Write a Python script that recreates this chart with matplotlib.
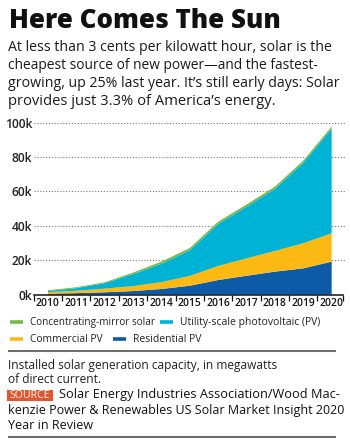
import matplotlib

matplotlib.use("Agg")
import matplotlib.pyplot as plt
from matplotlib.lines import Line2D
from matplotlib.patches import Rectangle

# installed capacity, thousand MWdc
years = [2010, 2011, 2012, 2013, 2014, 2015, 2016, 2017, 2018, 2019, 2020]
residential = [0.5, 0.8, 1.3, 2.0, 3.2, 5.1, 8.4, 10.9, 13.3, 15.2, 19.1]
commercial = [0.9, 1.4, 2.1, 2.9, 4.0, 5.7, 8.2, 10.1, 12.0, 14.6, 16.5]
utility = [0.6, 1.5, 3.2, 6.9, 10.6, 14.9, 24.4, 30.0, 36.1, 46.7, 60.7]
csp = [0.5, 0.5, 0.5, 0.9, 1.3, 1.3, 1.3, 1.3, 1.3, 1.3, 1.3]

y_ticks = [0, 20, 40, 60, 80, 100]
y_labels = ["0k", "20k", "40k", "60k", "80k", "100k"]

series_names = ["Concentrating-mirror solar", "Utility-scale photovoltaic (PV)",
                "Commercial PV", "Residential PV"]
C_RES = "#0d5aa7"
C_COM = "#fdb913"
C_UTIL = "#00b2d3"
C_CSP = "#7ab648"

title = "Here Comes The Sun"
subtitle = [
    "At less than 3 cents per kilowatt hour, solar is the",
    "cheapest source of new power\u2014and the fastest-",
    "growing, up 25% last year. It\u2019s still early days: Solar",
    "provides just 3.3% of America\u2019s energy.",
]
note = ["Installed solar generation capacity, in megawatts", "of direct current."]
source = [
    "Solar Energy Industries Association/Wood Mac-",
    "kenzie Power & Renewables US Solar Market Insight 2020",
    "Year in Review",
]

W, H = 350, 444
FONT = "Open Sans"
TXT = "#1a1a1a"

fig = plt.figure(figsize=(W / 100, H / 100), dpi=100)
fig.patch.set_facecolor("white")
renderer = fig.canvas.get_renderer()


def px(x, y):
    # pixel coords (top-left origin) -> figure fraction
    return x / W, 1 - y / H


def fit(t, width):
    bb = t.get_window_extent(renderer)
    t.set_fontsize(t.get_fontsize() * width / bb.width)


def size_for(s, width, **kw):
    t = fig.text(0, 0, s, fontsize=10, family=FONT, **kw)
    fit(t, width)
    size = t.get_fontsize()
    t.remove()
    return size


def put(x, y, s, width=None, **kw):
    kw.setdefault("family", FONT)
    kw.setdefault("color", TXT)
    t = fig.text(*px(x, y), s, va="baseline", **kw)
    if width:
        fit(t, width)
    return t


def hline(x0, x1, y, color, lw):
    fig.add_artist(Line2D([x0 / W, x1 / W], [1 - y / H, 1 - y / H],
                          color=color, lw=lw, solid_capstyle="butt"))


# header
put(9, 28, title, width=271, fontsize=20, weight="heavy", color="#111111")
for i, (line, w) in enumerate(zip(subtitle, [322, 310, 330, 268])):
    put(8, 50.7 + i * 18.2, line, width=w, fontsize=10)

# chart
x0, x1 = 34.3, 343
y0, y1 = 294.5, 122.5
ax = fig.add_axes([x0 / W, 1 - y0 / H, (x1 - x0) / W, (y0 - y1) / H])
ax.stackplot(years, residential, commercial, utility, csp,
             colors=[C_RES, C_COM, C_UTIL, C_CSP], linewidth=0, zorder=2)
ax.set_xlim(2009.52, 2020.4)
ax.set_ylim(0, 100)

ysize = size_for("100k", 27.5, weight="semibold")
xsize = size_for("2010", 23.5, weight="semibold")

ax.set_yticks(y_ticks)
ax.set_yticklabels(y_labels)
ax.tick_params(axis="y", length=0, pad=1.5, labelsize=ysize, labelcolor="#222222")
for v in y_ticks[1:]:
    ax.axhline(v, xmin=0, xmax=1.01, color="#777777", lw=0.8, ls=(0, (1, 1.6)),
               zorder=1, clip_on=False)

ax.set_xticks(years)
ax.set_xticklabels([str(y) for y in years])
ax.set_xticks([2009.52] + [y + 0.5 for y in years[:-1]] + [2020.4], minor=True)
ax.tick_params(axis="x", which="major", length=0, pad=2.5, labelsize=xsize,
               labelcolor="#111111")
ax.tick_params(axis="x", which="minor", length=4, width=0.9, color="#111111",
               direction="out")
for lab in ax.get_xticklabels() + ax.get_yticklabels():
    lab.set_family(FONT)
    lab.set_weight("semibold")

for side in ["top", "right", "left"]:
    ax.spines[side].set_visible(False)
ax.spines["bottom"].set_linewidth(1.1)
ax.spines["bottom"].set_color("#111111")
ax.set_facecolor("none")

# legend
legend_rows = [
    [(10, 30, series_names[0], C_CSP, 125), (160, 180, series_names[1], C_UTIL, 141)],
    [(10, 30, series_names[2], C_COM, 73), (113, 133, series_names[3], C_RES, 69)],
]
for row, y in zip(legend_rows, [321.5, 339]):
    for hx, tx, name, col, w in row:
        hline(hx, hx + 13, y, col, 2.6)
        put(tx, y + 3.3, name, width=w, fontsize=8, color="#222222")

hline(8, 336, 350.5, "#6d6d6d", 1.5)

# footer
put(8, 369.3, note[0], width=270, fontsize=8.3, color="#222222")
put(8, 382.7, note[1], fontsize=8.3, color="#222222")
fig.texts[-1].set_fontsize(fig.texts[-2].get_fontsize())
fig.add_artist(Rectangle(px(7, 400.5), 46 / W, 10.5 / H, color="#e9532b", lw=0))
put(9.5, 398.3, "SOURCE", width=41, fontsize=7.0, color="white")
put(59, 398.3, source[0], width=278, fontsize=8.4, weight="medium", color="#111111")
put(8, 414.3, source[1], width=332, fontsize=8.4, weight="medium", color="#111111")
put(8, 428.7, source[2], fontsize=8.4, weight="medium", color="#111111")
fig.texts[-1].set_fontsize(fig.texts[-2].get_fontsize())
hline(8, 336, 436.5, "#6d6d6d", 1.5)

fig.savefig("out.png", dpi=100)
